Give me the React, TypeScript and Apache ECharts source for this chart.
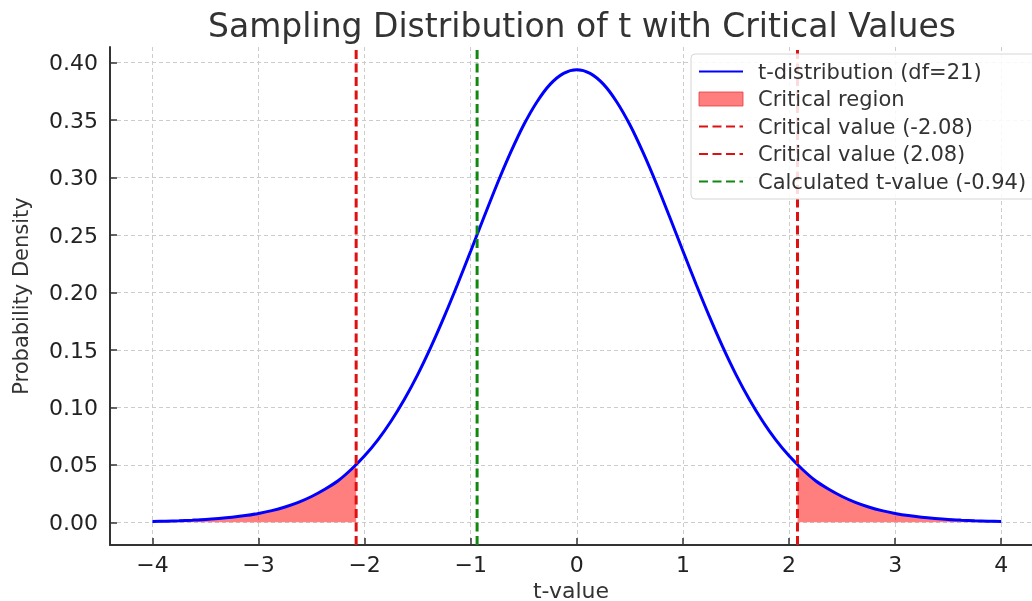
import React, { useEffect, useRef } from "react";
import * as echarts from "echarts";

const tValues = [
  -4, -3.875, -3.75, -3.625, -3.5, -3.375, -3.25, -3.125, -3, -2.875, -2.75, -2.625, -2.5, -2.375, -2.25, -2.125,
  -2, -1.875, -1.75, -1.625, -1.5, -1.375, -1.25, -1.125, -1, -0.875, -0.75, -0.625, -0.5, -0.375, -0.25, -0.125,
  0, 0.125, 0.25, 0.375, 0.5, 0.625, 0.75, 0.875, 1, 1.125, 1.25, 1.375, 1.5, 1.625, 1.75, 1.875,
  2, 2.125, 2.25, 2.375, 2.5, 2.625, 2.75, 2.875, 3, 3.125, 3.25, 3.375, 3.5, 3.625, 3.75, 3.875, 4,
];
const density = [
  0.0008, 0.001, 0.0014, 0.0019, 0.0025, 0.0034, 0.0045, 0.0059, 0.0078, 0.0102, 0.0134, 0.0174, 0.0225, 0.0288, 0.0362, 0.0462,
  0.0579, 0.0718, 0.0882, 0.1071, 0.1286, 0.1527, 0.179, 0.207, 0.2362, 0.2657, 0.2947, 0.3217, 0.346, 0.3661, 0.3814, 0.3908,
  0.394, 0.3908, 0.3814, 0.3661, 0.346, 0.3217, 0.2947, 0.2657, 0.2362, 0.207, 0.179, 0.1527, 0.1286, 0.1071, 0.0882, 0.0718,
  0.0579, 0.0462, 0.0362, 0.0288, 0.0225, 0.0174, 0.0134, 0.0102, 0.0078, 0.0059, 0.0045, 0.0034, 0.0025, 0.0019, 0.0014, 0.001, 0.0008,
];
const criticalValue = 2.08;
const densityAtCritical = 0.0502;
const calculatedT = -0.94;
const xTicks = [-4, -3, -2, -1, 0, 1, 2, 3, 4];
const yTicks = [0, 0.05, 0.1, 0.15, 0.2, 0.25, 0.3, 0.35, 0.4];
const xMin = -4.4, xMax = 4.29, yMin = -0.0197, yMax = 0.4137;

const FONT = "DejaVu Sans";

export default function App() {
  const ref = useRef<HTMLDivElement>(null);
  useEffect(() => {
    const chart = echarts.init(ref.current!, null, { renderer: "svg" });
    const pts = tValues.map((t, i) => [t, density[i]]);
    const leftFill = [...pts.filter((p) => p[0] < -criticalValue), [-criticalValue, densityAtCritical]];
    const rightFill = [[criticalValue, densityAtCritical], ...pts.filter((p) => p[0] > criticalValue)];
    const fmtMinus = (v: number) => (v < 0 ? "\u2212" + Math.abs(v) : String(v));
    const fillColor = "rgba(255,0,0,0.5)";
    const hideSym = { opacity: 0 };
    chart.setOption({
      animation: false,
      title: {
        text: "Sampling Distribution of t with Critical Values",
        left: 577,
        textAlign: "center",
        top: 4,
        textStyle: { fontFamily: FONT, fontSize: 33, fontWeight: "normal", color: "#333" },
      },
      grid: { left: 110, top: 47, right: 0, height: 498, outerBoundsMode: "none", containLabel: false },
      legend: {
        orient: "vertical",
        left: 691,
        top: 54,
        z: 10,
        padding: [7, 12, 7, 7],
        itemWidth: 44,
        itemHeight: 14,
        itemGap: 6.5,
        borderColor: "#d6d6d6",
        borderWidth: 1,
        borderRadius: 4,
        backgroundColor: "rgba(255,255,255,0.85)",
        textStyle: { fontFamily: FONT, fontSize: 21, color: "#333", lineHeight: 21, padding: [0, 0, 0, 10] },
        data: [
          { name: "t-distribution (df=21)", itemStyle: hideSym },
          { name: "Critical region", icon: "rect", itemStyle: { color: fillColor, borderColor: "rgba(230,60,60,0.8)", borderWidth: 1 } },
          { name: "Critical value (-2.08)", itemStyle: hideSym },
          { name: "Critical value (2.08)", itemStyle: hideSym },
          { name: "Calculated t-value (-0.94)", itemStyle: hideSym },
        ],
      },
      xAxis: {
        type: "value",
        min: xMin,
        max: xMax,
        name: "t-value",
        nameLocation: "middle",
        nameGap: 32,
        nameTextStyle: { fontFamily: FONT, fontSize: 22, lineHeight: 22, color: "#333" },
        axisLine: { show: true, onZero: false, lineStyle: { color: "#333", width: 2 } },
        axisTick: { show: true, inside: true, length: 7, customValues: xTicks, lineStyle: { color: "#333", width: 1.5 } },
        axisLabel: { customValues: xTicks, formatter: fmtMinus, fontFamily: FONT, fontSize: 22, color: "#222", margin: 8 },
        splitLine: { show: true, lineStyle: { color: "#cccccc", type: [4, 3], width: 1 } },
      },
      yAxis: {
        type: "value",
        min: yMin,
        max: yMax,
        name: "Probability Density",
        nameLocation: "middle",
        nameGap: 79,
        nameTextStyle: { fontFamily: FONT, fontSize: 21, color: "#333" },
        axisLine: { show: true, onZero: false, lineStyle: { color: "#333", width: 2 } },
        axisTick: { show: true, inside: true, length: 7, customValues: yTicks, lineStyle: { color: "#333", width: 1.5 } },
        axisLabel: { customValues: yTicks, formatter: (v: number) => v.toFixed(2), fontFamily: FONT, fontSize: 22, color: "#222", margin: 12 },
        splitLine: { show: true, lineStyle: { color: "#cccccc", type: [4, 3], width: 1 } },
      },
      series: [
        {
          name: "Critical region",
          type: "line",
          data: leftFill,
          smooth: 0.3,
          symbol: "none",
          color: fillColor,
          lineStyle: { width: 0 },
          areaStyle: { color: fillColor, opacity: 1, origin: 0 },
          z: 1,
        },
        {
          name: "Critical region",
          type: "line",
          data: rightFill,
          smooth: 0.3,
          symbol: "none",
          color: fillColor,
          lineStyle: { width: 0 },
          areaStyle: { color: fillColor, opacity: 1, origin: 0 },
          z: 1,
        },
        {
          name: "t-distribution (df=21)",
          type: "line",
          data: pts,
          smooth: 0.3,
          symbol: "none",
          color: "#0000ff",
          lineStyle: { width: 3, color: "#0000ff" },
          z: 3,
        },
        {
          name: "Critical value (-2.08)",
          type: "line",
          data: [[-criticalValue, yMin], [-criticalValue, yMax]],
          symbol: "none",
          color: "#e01010",
          lineStyle: { width: 3, type: [9, 4.5], color: "#e01010" },
          z: 3,
        },
        {
          name: "Critical value (2.08)",
          type: "line",
          data: [[criticalValue, yMin], [criticalValue, yMax]],
          symbol: "none",
          color: "#e01010",
          lineStyle: { width: 3, type: [9, 4.5], color: "#e01010" },
          z: 3,
        },
        {
          name: "Calculated t-value (-0.94)",
          type: "line",
          data: [[calculatedT, yMin], [calculatedT, yMax]],
          symbol: "none",
          color: "#118811",
          lineStyle: { width: 3, type: [9, 4.5], color: "#118811" },
          z: 3,
        },
      ],
    });
    return () => chart.dispose();
  }, []);
  return <div ref={ref} style={{ position: "fixed", left: 0, top: 0, width: 1032, height: 601 }} />;
}
